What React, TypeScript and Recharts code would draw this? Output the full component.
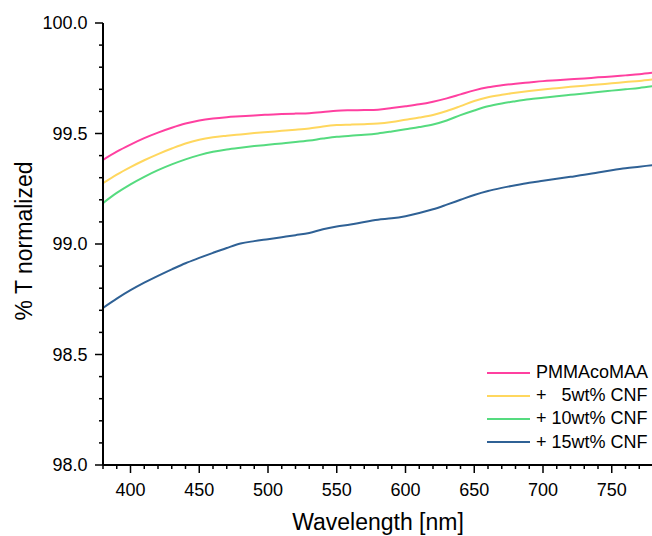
import React from 'react';
import { LineChart, Line, XAxis, YAxis, Legend, Label } from 'recharts';

const wavelengths = [380,390,400,410,420,430,440,450,460,470,480,490,500,510,520,530,540,550,560,570,580,590,600,610,620,630,640,650,660,670,680,690,700,710,720,730,740,750,760,770,780];

const pmma = [99.381,99.418,99.450,99.479,99.504,99.526,99.545,99.559,99.568,99.574,99.578,99.582,99.585,99.588,99.590,99.592,99.597,99.603,99.605,99.606,99.608,99.615,99.623,99.632,99.644,99.659,99.677,99.695,99.709,99.718,99.725,99.731,99.737,99.741,99.745,99.749,99.754,99.758,99.763,99.768,99.775];
const cnf5 = [99.275,99.314,99.348,99.379,99.407,99.432,99.455,99.472,99.483,99.490,99.496,99.502,99.507,99.512,99.517,99.523,99.532,99.538,99.540,99.542,99.545,99.552,99.562,99.572,99.584,99.602,99.624,99.647,99.664,99.675,99.684,99.692,99.699,99.705,99.711,99.716,99.722,99.727,99.733,99.738,99.745];
const cnf10 = [99.185,99.231,99.270,99.304,99.334,99.360,99.383,99.402,99.417,99.428,99.436,99.443,99.449,99.455,99.461,99.468,99.477,99.485,99.490,99.494,99.500,99.509,99.519,99.529,99.541,99.559,99.583,99.604,99.623,99.636,99.646,99.655,99.662,99.669,99.675,99.681,99.688,99.694,99.700,99.706,99.714];
const cnf15 = [98.711,98.753,98.791,98.825,98.856,98.885,98.913,98.937,98.960,98.982,99.002,99.013,99.022,99.031,99.040,99.050,99.067,99.079,99.088,99.100,99.110,99.116,99.126,99.140,99.157,99.178,99.200,99.222,99.240,99.254,99.266,99.277,99.286,99.295,99.304,99.313,99.324,99.334,99.343,99.350,99.357];

const xTicks = [380,390,400,410,420,430,440,450,460,470,480,490,500,510,520,530,540,550,560,570,580,590,600,610,620,630,640,650,660,670,680,690,700,710,720,730,740,750,760,770,780];
const xMajor = [400,450,500,550,600,650,700,750];
const yTicks = [98.0,98.1,98.2,98.3,98.4,98.5,98.6,98.7,98.8,98.9,99.0,99.1,99.2,99.3,99.4,99.5,99.6,99.7,99.8,99.9,100.0];
const yMajor = [98.0,98.5,99.0,99.5,100.0];

const seriesNames = ['PMMAcoMAA', '+   5wt% CNF', '+ 10wt% CNF', '+ 15wt% CNF'];
const seriesKeys = ['pmma', 'cnf5', 'cnf10', 'cnf15'];
const seriesColors = ['#FF40A0', '#FFD75E', '#55DB7F', '#2F6195'];

const data = wavelengths.map((w, i) => ({
  w,
  pmma: pmma[i],
  cnf5: cnf5[i],
  cnf10: cnf10[i],
  cnf15: cnf15[i],
}));

const FONT = '"Liberation Sans", Arial, Helvetica, sans-serif';

const isMajorY = (v: number) => yMajor.some((m) => Math.abs(m - v) < 1e-6);

const XTick = (props: any) => {
  const { x, y, payload } = props;
  const major = xMajor.includes(payload.value);
  return (
    <g>
      <line x1={x} x2={x} y1={y} y2={y + (major ? 8 : 4)} stroke="#000" strokeWidth={1.5} />
      {major && (
        <text x={x} y={y + 31} textAnchor="middle" fontSize={18} fontFamily={FONT} fill="#000">
          {payload.value}
        </text>
      )}
    </g>
  );
};

const YTick = (props: any) => {
  const { x, y, payload } = props;
  const major = isMajorY(payload.value);
  return (
    <g>
      <line x1={x - (major ? 8 : 4)} x2={x} y1={y} y2={y} stroke="#000" strokeWidth={1.5} />
      {major && (
        <text x={x - 15.5} y={y} dy="0.36em" textAnchor="end" fontSize={18} fontFamily={FONT} fill="#000">
          {Number(payload.value).toFixed(1)}
        </text>
      )}
    </g>
  );
};

const renderLegend = () => (
  <div style={{ fontFamily: FONT, fontSize: 18, color: '#000' }}>
    {seriesNames.map((name, i) => (
      <div key={name} style={{ display: 'flex', alignItems: 'center', height: 23.2, whiteSpace: 'pre' }}>
        <svg width={43} height={4} style={{ display: 'block' }}>
          <line x1={0} x2={43} y1={2} y2={2} stroke={seriesColors[i]} strokeWidth={2.2} />
        </svg>
        <span style={{ marginLeft: 6, lineHeight: '23px' }}>{name}</span>
      </div>
    ))}
  </div>
);

const YLabelContent = () => {
  const cx = 24;
  const cy = 241;
  return (
    <text
      x={cx}
      y={cy}
      transform={`rotate(-90 ${cx} ${cy})`}
      textAnchor="middle"
      dominantBaseline="central"
      fontSize={23}
      fontFamily={FONT}
      fill="#000"
    >
      % T normalized
    </text>
  );
};

const XLabelContent = () => (
  <text x={378} y={530} textAnchor="middle" fontSize={23} fontFamily={FONT} fill="#000">
    Wavelength [nm]
  </text>
);

export default function App() {
  return (
    <div style={{ position: 'absolute', left: 0, top: 0, width: 652, height: 536, overflow: 'hidden', background: '#fff' }}>
      <LineChart width={654} height={536} data={data} margin={{ top: 23, right: 1, bottom: 0, left: 0 }}>
        <XAxis
          dataKey="w"
          type="number"
          domain={[380, 780]}
          ticks={xTicks}
          interval={0}
          tickSize={0}
          tickMargin={0}
          height={71}
          tick={<XTick />}
          axisLine={{ stroke: '#000', strokeWidth: 2 }}
          allowDataOverflow
        >
          <Label content={<XLabelContent />} />
        </XAxis>
        <YAxis
          type="number"
          domain={[98, 100]}
          ticks={yTicks}
          interval={0}
          tickSize={0}
          tickMargin={0}
          width={103}
          tick={<YTick />}
          axisLine={{ stroke: '#000', strokeWidth: 2 }}
          allowDataOverflow
        >
          <Label content={<YLabelContent />} />
        </YAxis>
        <Legend
          layout="horizontal"
          align="center"
          verticalAlign="middle"
          content={renderLegend}
          wrapperStyle={{ left: 487, top: 361, width: 170, height: 95 }}
        />
        {seriesKeys.map((k, i) => (
          <Line
            key={k}
            dataKey={k}
            name={seriesNames[i]}
            type="monotone"
            stroke={seriesColors[i]}
            strokeWidth={2}
            dot={false}
            isAnimationActive={false}
          />
        ))}
      </LineChart>
    </div>
  );
}
